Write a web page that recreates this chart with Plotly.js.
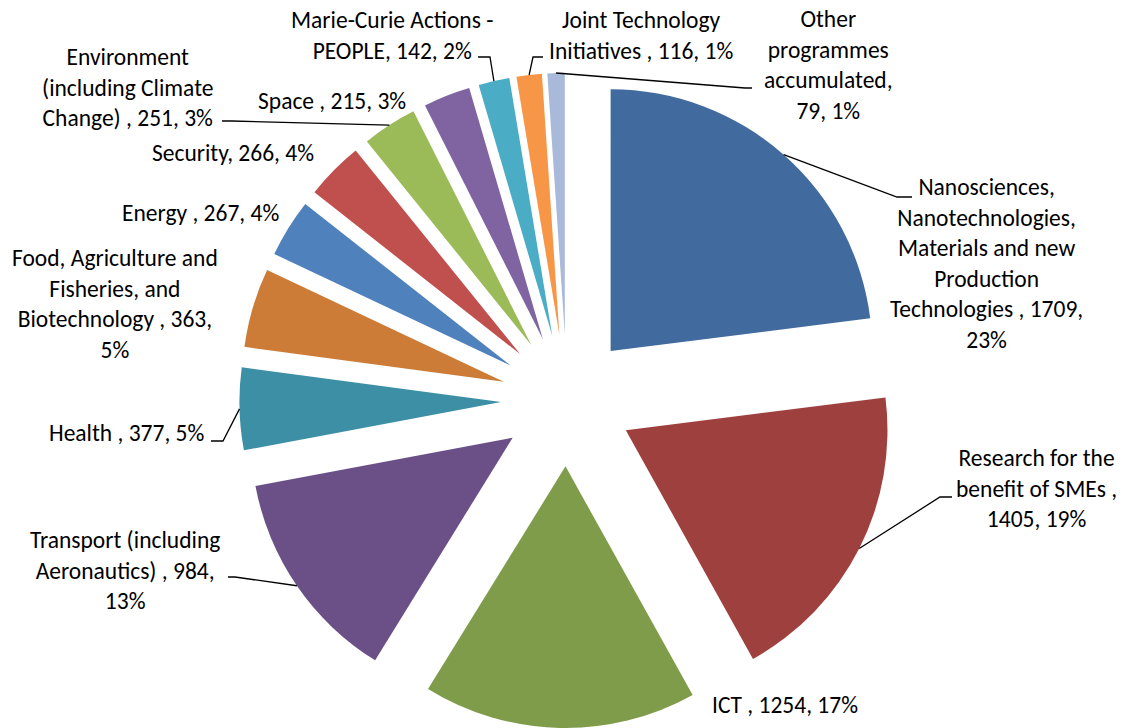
<!DOCTYPE html>
<html>
<head>
<meta charset="utf-8">
<script src="https://cdn.plot.ly/plotly-3.0.1.min.js"></script>
<style>html,body{margin:0;padding:0;background:#fff;}#chart{width:1124px;height:728px;}</style>
</head>
<body>
<div id="chart"></div>
<script>
// ---- data ----
const categories = [
  "Nanosciences, Nanotechnologies, Materials and new Production Technologies",
  "Research for the benefit of SMEs",
  "ICT",
  "Transport (including Aeronautics)",
  "Health",
  "Food, Agriculture and Fisheries, and Biotechnology",
  "Energy",
  "Security",
  "Environment (including Climate Change)",
  "Space",
  "Marie-Curie Actions - PEOPLE",
  "Joint Technology Initiatives",
  "Other programmes accumulated"
];
const values = [1709, 1405, 1254, 984, 377, 363, 267, 266, 251, 215, 142, 116, 79];
const percentLabels = ["23%", "19%", "17%", "13%", "5%", "5%", "4%", "4%", "3%", "3%", "2%", "1%", "1%"];
// data-label heads as wrapped in the chart
const labelHeads = [
  "Nanosciences,<br>Nanotechnologies,<br>Materials and new<br>Production<br>Technologies ,",
  "Research for the<br>benefit of SMEs ,",
  "ICT ,",
  "Transport (including<br>Aeronautics) ,",
  "Health ,",
  "Food, Agriculture and<br>Fisheries, and<br>Biotechnology ,",
  "Energy ,",
  "Security,",
  "Environment<br>(including Climate<br>Change) ,",
  "Space ,",
  "Marie-Curie Actions -<br>PEOPLE,",
  "Joint Technology<br>Initiatives ,",
  "Other<br>programmes<br>accumulated,"
];
const breakBeforeValue = [false, true, false, false, false, false, false, false, false, false, false, false, true];
const breakBeforePct   = [true, false, false, true, false, true, false, false, false, false, false, false, false];

// ---- style / layout ----
const colors = ["#416B9E", "#9E413E", "#7F9C4A", "#6A5087", "#3D8FA6", "#CD7C37",
                "#4F81BD", "#C0504D", "#9BBB59", "#8064A2", "#4BACC6", "#F79646", "#A9B9D9"];
const W = 1124, H = 728;
const pullFrac = 0.252;
const domX = [(567 - 328) / W, (567 + 328) / W];
const domY = [0, 0.9];
const fontFamily = "Carlito, Lato, 'Liberation Sans', sans-serif";
const fontSize = 23.5;

// label centres (px) and leader-line elbow / end points (px)
const labelPos = [[986, 263], [1036, 489], [785, 705], [125, 570], [127, 433], [115, 304],
                  [200, 213], [233, 153], [127, 87], [332, 101], [392, 35], [641, 35], [828, 65]];
const leaders = {
  0: [[897, 197], [912, 197]],
  1: [[940, 497], [952, 497]],
  3: [[235, 577], [228, 577]],
  4: [[223, 441], [211, 441]],
  8: [[232, 121], [222, 121]],
  10: [[490, 57], [478, 57]],
  11: [[533, 57], [543, 57]],
  12: [[745, 88], [752, 88]]
};

// ---- geometry (same as Plotly's pie) ----
const total = values.reduce((a, b) => a + b, 0);
const boxW = W * (domX[1] - domX[0]), boxH = H * (domY[1] - domY[0]);
const r = Math.min(boxW, boxH) / 2 / (1 + pullFrac);
const cx = W * (domX[0] + domX[1]) / 2;
const cy = H * (1 - (domY[0] + domY[1]) / 2);
const px2x = x => x / W, px2y = y => 1 - y / H;

const annotations = [];
const shapes = [];
let cum = 0;
values.forEach((v, i) => {
  const mid = (cum + v / 2) / total * 2 * Math.PI;
  cum += v;
  const txt = labelHeads[i] + (breakBeforeValue[i] ? "<br>" : " ") + v + "," +
              (breakBeforePct[i] ? "<br>" : " ") + percentLabels[i];
  annotations.push({
    xref: "paper", yref: "paper",
    x: px2x(labelPos[i][0]), y: px2y(labelPos[i][1]),
    xanchor: "center", yanchor: "middle", align: "center",
    text: txt, showarrow: false,
    font: {family: fontFamily, size: fontSize, color: "#000000"}
  });
  if (leaders[i]) {
    const sx = cx + r * (1 + pullFrac) * Math.sin(mid);
    const sy = cy - r * (1 + pullFrac) * Math.cos(mid);
    const [e, t] = leaders[i];
    shapes.push({
      type: "path", xref: "paper", yref: "paper",
      path: `M ${px2x(sx)} ${px2y(sy)} L ${px2x(e[0])} ${px2y(e[1])} L ${px2x(t[0])} ${px2y(t[1])}`,
      line: {color: "#000000", width: 1.3}
    });
  }
});

const trace = {
  type: "pie",
  labels: categories,
  values: values,
  sort: false,
  direction: "clockwise",
  rotation: 0,
  pull: values.map(() => pullFrac),
  textinfo: "none",
  hoverinfo: "label+value+percent",
  marker: {colors: colors, line: {width: 0}},
  domain: {x: domX, y: domY}
};

Plotly.newPlot("chart", [trace], {
  width: W, height: H,
  margin: {l: 0, r: 0, t: 0, b: 0},
  showlegend: false,
  paper_bgcolor: "#ffffff",
  annotations: annotations,
  shapes: shapes
}, {displayModeBar: false, staticPlot: true});
</script>
</body>
</html>
